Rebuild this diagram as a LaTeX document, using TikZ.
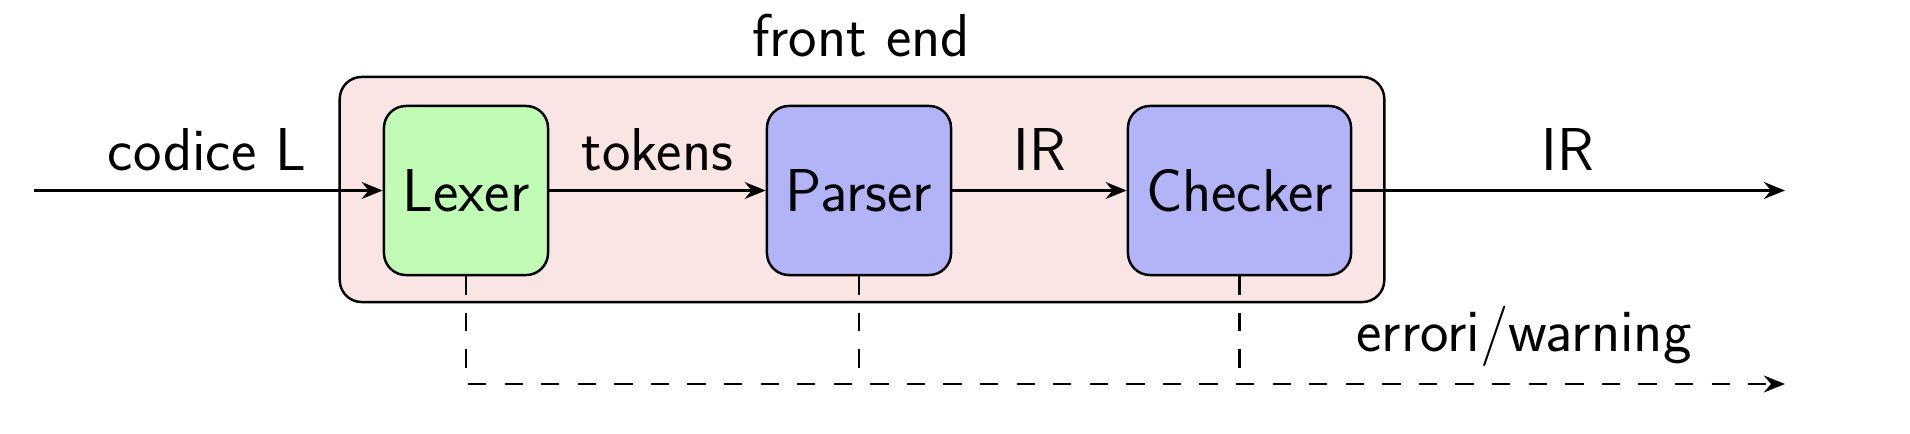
\documentclass[tikz,border=0pt]{standalone}
\usepackage{fontspec}
\usetikzlibrary{arrows.meta}
\definecolor{outerfill}{RGB}{250,229,229}
\definecolor{lexfill}{RGB}{192,252,182}
\definecolor{blockfill}{RGB}{179,179,247}
\begin{document}
\begin{tikzpicture}[x=0.01cm,y=-0.01cm,
  every node/.style={font=\sffamily\fontsize{17.2}{20}\selectfont},
  lw/.style={line width=0.7pt},
  stagebox/.style={lw,draw,rounded corners=0.22cm,inner sep=0pt},
  flow/.style={lw,-{Stealth[length=6pt,width=4.8pt,inset=2pt]}},
  errflow/.style={lw,dash pattern=on 5.2pt off 5.2pt},
  lbl/.style={anchor=base,inner sep=0pt}]
\useasboundingbox (0,0) rectangle (1910,434);
% outer box
\node[stagebox,fill=outerfill,minimum width=10.44cm,minimum height=2.25cm] (fe) at (862,189.5) {};
\node[lbl] (felbl) at (861,56.7) {front end};
% stages
\node[stagebox,fill=lexfill,minimum width=1.64cm,minimum height=1.69cm] (lexer) at (466,190.5) {Lexer};
\node[stagebox,fill=blockfill,minimum width=1.84cm,minimum height=1.69cm] (parser) at (859,190.5) {Parser};
\node[stagebox,fill=blockfill,minimum width=2.23cm,minimum height=1.69cm] (checker) at (1239.5,190.5) {Checker};
% coordinates
\coordinate (in) at (34,190.5);
\coordinate (out) at (1785,190.5);
\coordinate (errend) at (1785,384);
% main flow
\draw[flow] (in) -- (lexer.west);
\draw[flow] (lexer.east) -- (parser.west);
\draw[flow] (parser.east) -- (checker.west);
\draw[flow] (checker.east) -- (out);
% labels
\node[lbl] (l1) at (207,170.7) {codice L};
\node[lbl] (l2) at (657.5,170.7) {tokens};
\node[lbl] (l3) at (1039.5,170.7) {IR};
\node[lbl] (l4) at (1568,170.7) {IR};
\node[lbl] (l5) at (1524,351) {errori/warning};
% error flow
\draw[errflow,-{Stealth[length=6pt,width=4.8pt,inset=2pt]}] (lexer.south) -- (lexer.south |- errend) -- (errend);
\draw[errflow] (parser.south) -- (parser.south |- errend);
\draw[errflow] (checker.south) -- (checker.south |- errend);
\end{tikzpicture}
\end{document}
